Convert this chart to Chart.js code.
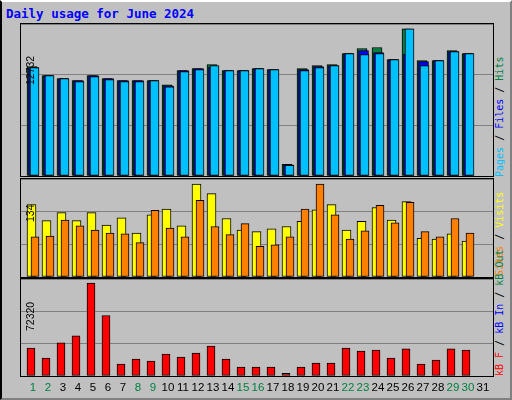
<!DOCTYPE html>
<html><head><meta charset="utf-8">
<script src="https://cdn.jsdelivr.net/npm/chart.js@4"></script>
<style>
html,body{margin:0;padding:0;background:#c0c0c0;}
#wrap{position:relative;width:508px;height:396px;background:#c0c0c0;border-left:2px solid #000;border-top:2px solid #fff;border-right:2px solid #808080;border-bottom:2px solid #808080;overflow:hidden;}
.panel{position:absolute;left:18px;width:472px;border:1px solid #000;background:#c0c0c0;}
.panel canvas{display:block;}
#title{position:absolute;left:4px;top:4px;font:bold 12.5px "DejaVu Sans Mono",monospace;color:#0000ff;}
.vl{position:absolute;writing-mode:vertical-rl;transform:rotate(180deg);text-align:left;white-space:nowrap;}
.yl{font:10.5px "Liberation Sans",sans-serif;color:#000;width:14px;left:22px;}
.rl{font:10px "DejaVu Sans Mono",monospace;width:13px;left:492px;}
#days span{position:absolute;top:379px;font:11.5px "Liberation Sans",sans-serif;transform:translateX(-50%);}
</style></head><body>
<div id="wrap">
<div id="title">Daily usage for June 2024</div>
<div class="panel" style="top:21px;height:152px"><canvas id="c1"></canvas></div>
<div class="panel" style="top:176px;height:98px"><canvas id="c2"></canvas></div>
<div class="panel" style="top:276px;height:97px"><canvas id="c3"></canvas></div>
<div class="vl yl" style="top:23px;height:60px">12732</div>
<div class="vl yl" style="top:180px;height:40px">134</div>
<div class="vl yl" style="top:279px;height:50px">72320</div>
<div class="vl rl" style="top:25px;height:150px"><span style="color:#00c0ff">Pages</span> / <span style="color:#0000ff">Files</span> / <span style="color:#008040">Hits</span></div>
<div class="vl rl" style="top:176px;height:98px"><span style="color:#ff8000">Sites</span> / <span style="color:#ffff00">Visits</span></div>
<div class="vl rl" style="top:262px;height:112px"><span style="color:#ff0000">kB F</span> / <span style="color:#0000ff">kB In</span> / <span style="color:#008040">kB Out</span></div>
<div id="days"></div>
</div>
<script>
const days = [1,2,3,4,5,6,7,8,9,10,11,12,13,14,15,16,17,18,19,20,21,22,23,24,25,26,27,28,29,30,31];
const weekend = [1,2,8,9,15,16,22,23,29,30];
const hits  = [9163,8405,8152,7983,8405,8152,7983,7983,7983,7646,8826,8995,9332,8826,8826,8995,8910,986,8995,9248,9332,10259,10680,10765,9754,12333,9670,9670,10512,10259,null];
const files = [9080,8405,8152,7983,8405,8152,7983,7983,7983,7560,8826,8995,9100,8826,8826,8995,8910,940,8910,9160,9248,10259,10512,10343,9754,10200,9585,9670,10428,10259,null];
const pages = [9080,8405,8152,7900,8320,8068,7900,7900,7983,7478,8742,8910,9248,8826,8826,8995,8910,902,8826,9080,9248,10259,10174,10259,9754,12333,9248,9670,10428,10259,null];
const visits = [99,77,88,77,88,71,81,60,85,93,70,127,114,80,64,62,66,69,76,92,99,64,76,95,78,103,53,52,59,49,null];
const sites  = [55,56,78,70,64,60,59,47,91,67,55,105,69,58,73,42,44,55,93,127,85,52,63,98,74,102,62,55,80,60,null];
const kbF = [20900,13400,24700,30000,69300,45100,8800,12600,11100,16400,14100,17100,22400,12600,6600,6600,6600,2000,6600,9600,9600,20900,18600,19400,13400,20200,8800,11900,20200,19400,null];
const maxTop = 12732, maxMid = 134, maxBot = 72320;

const pts = (arr, off) => arr.map((v,i)=>({x:days[i]+off, y:v}));
const ds = (label, arr, off, color, w, order) => ({label, data:pts(arr,off), backgroundColor:color, borderColor:'#000', borderWidth:1, borderSkipped:false, barThickness:w, grouped:false, order});
function mk(id, datasets, max, lines){
  new Chart(document.getElementById(id), {
    type:'bar',
    data:{datasets},
    options:{
      responsive:false, animation:false, devicePixelRatio:1,
      layout:{padding:0},
      plugins:{legend:{display:false}, tooltip:{enabled:false}},
      scales:{
        x:{type:'linear', offset:false, min:0.067, max:31.533, display:false},
        y:{min:0, max:max, ticks:{display:false, stepSize:max/lines}, border:{display:false},
           grid:{color:'#808080', lineWidth:1, drawTicks:false}, afterFit:s=>{s.width=0;}}
      }
    }
  });
}
function size(id,w,h){const c=document.getElementById(id);c.width=w;c.height=h;c.style.width=w+'px';c.style.height=h+'px';}
size('c1',472,152); size('c2',472,98); size('c3',472,97);
mk('c1',[ds('Hits',hits,-0.2,'#008040',10,3), ds('Files',files,-0.1,'#0000ff',10,2), ds('Pages',pages,-0.033,'#00c0ff',9,1)], maxTop, 3);
mk('c2',[ds('Visits',visits,-0.233,'#ffff00',9,2), ds('Sites',sites,0,'#ff8000',8,1)], maxMid, 3);
mk('c3',[ds('kB F',kbF,-0.267,'#ff0000',8,1)], maxBot, 3);

const dd = document.getElementById('days');
days.forEach(d=>{const s=document.createElement('span');s.textContent=d;s.style.left=(16+15*d)+'px';s.style.color=weekend.includes(d)?'#008040':'#000';dd.appendChild(s);});
</script>
</body></html>
